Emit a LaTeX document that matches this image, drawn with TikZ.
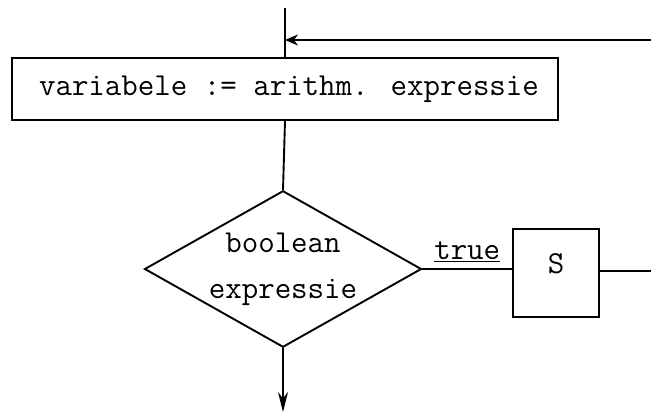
\documentclass[tikz,border=0pt]{standalone}
\usetikzlibrary{shapes.geometric,arrows.meta}
\begin{document}
\begin{tikzpicture}[x=1pt,y=-1pt,
  line width=1.9pt,
  tt/.style={font=\fontsize{32}{46}\selectfont\ttfamily},
  stmt/.style={draw,rectangle,inner sep=0pt,tt},
  cond/.style={draw,diamond,inner sep=0pt,aspect=1.77,minimum width=273pt,minimum height=154pt,align=center,tt},
  flow/.style={-{Stealth[length=20pt,width=10pt]}},
  back/.style={-{Stealth[length=13pt,width=11pt]}}]
\useasboundingbox (0,0) rectangle (651,418);

% assignment box
\node[stmt,minimum width=546pt,minimum height=62pt] (assign) at (285,89) {\hspace*{8pt}variabele := arithm. expressie};
% loop test
\node[cond] (test) at (283,269) {boolean\\expressie};
% loop body
\node[stmt,minimum width=86pt,minimum height=88pt,text height=20pt,text depth=20pt] (body) at (556,273) {S};

\coordinate (entry) at (285,8);
\coordinate (ret) at (651,40);
\coordinate (bodyout) at (651,271);
\coordinate (exit) at (283,412);

% entry line and return path
\draw (entry) -- (assign.north);
\draw[back] (ret) -- (ret -| entry);
% assignment to test
\draw (assign.south) -- (test.north);
% true branch into S
\draw (test.east) -- node[above=3pt,tt] {\underline{true}} (test.east -| body.west);
\draw (body.east |- bodyout) -- (bodyout);
% exit
\draw[flow] (test.south) -- (exit);
\end{tikzpicture}
\end{document}
